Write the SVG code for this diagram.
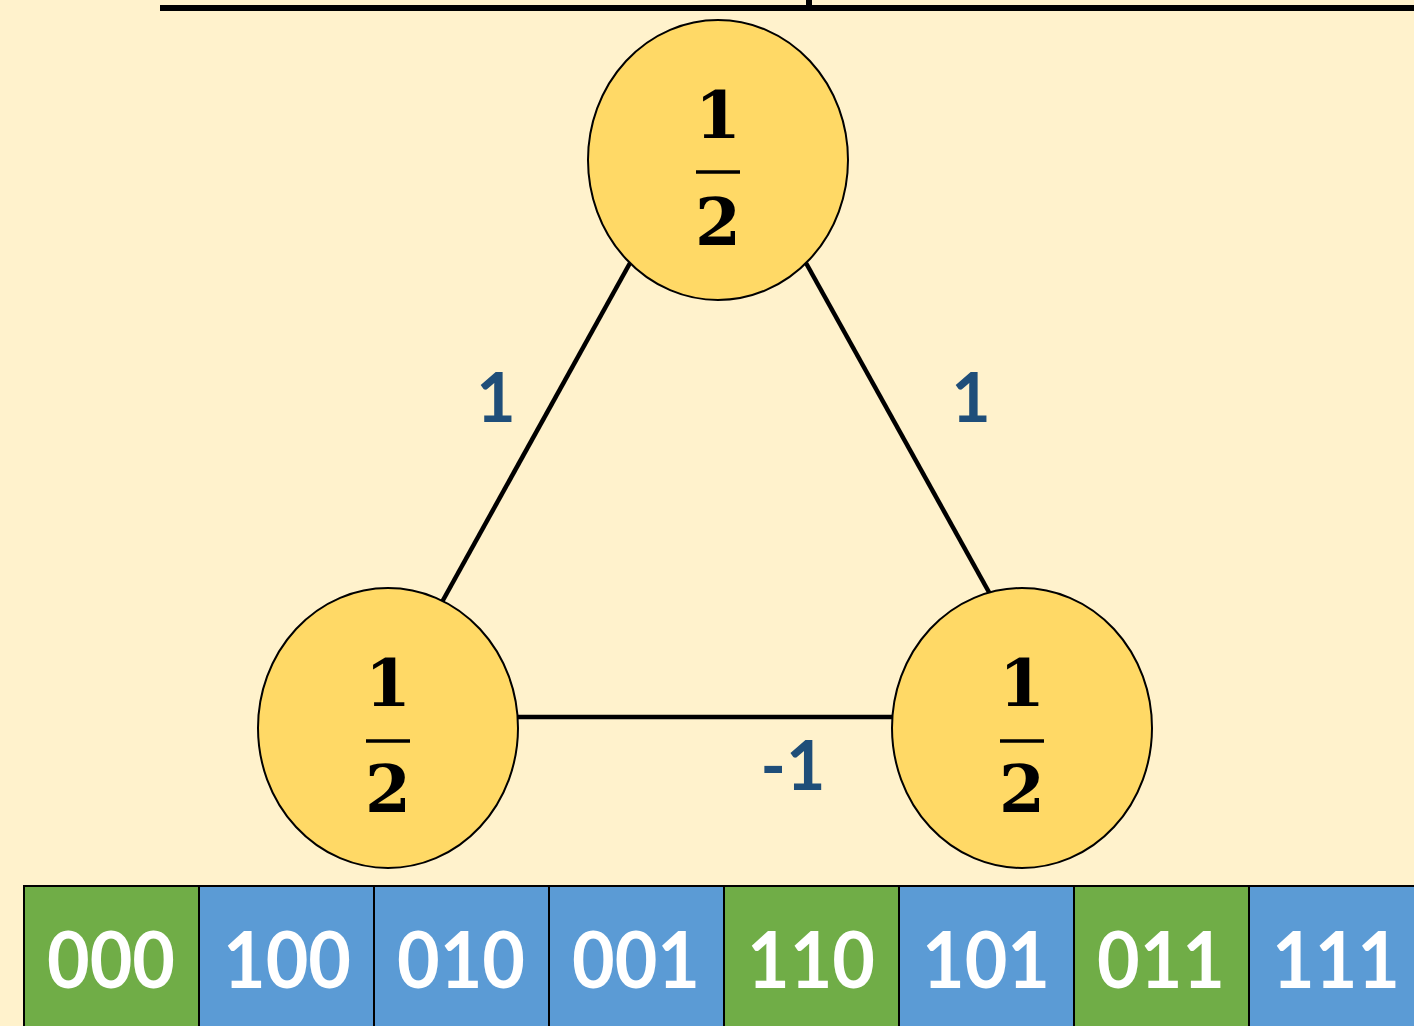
<svg xmlns="http://www.w3.org/2000/svg" width="1414" height="1026" viewBox="0 0 1414 1026">
<style>
.node{fill:#FFD966;stroke:#000;stroke-width:2}
.edge{stroke:#000;stroke-width:4.5;fill:none}
.frac{font-family:"DejaVu Serif","Liberation Serif",serif;font-weight:bold;font-size:66px;fill:#000;text-anchor:middle}
.bar{stroke:#000;stroke-width:3.5}
.lbl{font-family:Lato,"Open Sans",sans-serif;font-weight:bold;font-size:68px;fill:#1F4E79;text-anchor:middle}
.cell{stroke:#000;stroke-width:2}
.g{fill:#70AD47}
.b{fill:#5B9BD5}
.ct{font-family:Lato,"Open Sans",sans-serif;font-weight:bold;font-size:78px;fill:#fff;text-anchor:middle}
</style>
<rect width="1414" height="1026" fill="#FFF2CC"/>
<g id="topbar">
<line x1="160" y1="8" x2="1414" y2="8" stroke="#000" stroke-width="6"/>
<line x1="809" y1="0" x2="809" y2="10" stroke="#000" stroke-width="6"/>
</g>
<g id="connectors">
<line class="edge" x1="630" y1="263" x2="442" y2="602"/>
<line class="edge" x1="806" y1="263" x2="990" y2="594"/>
<line class="edge" x1="518" y1="717" x2="893" y2="717"/>
<text class="lbl" x="496" y="422">1</text>
<text class="lbl" x="971" y="422">1</text>
<text class="lbl" x="793" y="790">-1</text>
</g>
<g id="node-top">
<ellipse class="node" cx="718" cy="160" rx="130" ry="140"/>
<text class="frac" x="718" y="138">1</text>
<line class="bar" x1="696" y1="172" x2="740" y2="172"/>
<text class="frac" x="718" y="245">2</text>
</g>
<g id="node-left">
<ellipse class="node" cx="388" cy="728" rx="130" ry="140"/>
<text class="frac" x="388" y="706">1</text>
<line class="bar" x1="366" y1="741" x2="410" y2="741"/>
<text class="frac" x="388" y="812">2</text>
</g>
<g id="node-right">
<ellipse class="node" cx="1022" cy="728" rx="130" ry="140"/>
<text class="frac" x="1022" y="706">1</text>
<line class="bar" x1="1000" y1="741" x2="1044" y2="741"/>
<text class="frac" x="1022" y="812">2</text>
</g>
<g id="cells">
<rect class="cell g" x="24" y="886" width="175" height="150"/>
<rect class="cell b" x="199" y="886" width="175" height="150"/>
<rect class="cell b" x="374" y="886" width="175" height="150"/>
<rect class="cell b" x="549" y="886" width="175" height="150"/>
<rect class="cell g" x="724" y="886" width="175" height="150"/>
<rect class="cell b" x="899" y="886" width="175" height="150"/>
<rect class="cell g" x="1074" y="886" width="175" height="150"/>
<rect class="cell b" x="1249" y="886" width="175" height="150"/>
<text class="ct" x="111" y="988" textLength="128" lengthAdjust="spacingAndGlyphs">000</text>
<text class="ct" x="287" y="988" textLength="128" lengthAdjust="spacingAndGlyphs">100</text>
<text class="ct" x="461" y="988" textLength="128" lengthAdjust="spacingAndGlyphs">010</text>
<text class="ct" x="636" y="988" textLength="128" lengthAdjust="spacingAndGlyphs">001</text>
<text class="ct" x="811" y="988" textLength="128" lengthAdjust="spacingAndGlyphs">110</text>
<text class="ct" x="986" y="988" textLength="128" lengthAdjust="spacingAndGlyphs">101</text>
<text class="ct" x="1161" y="988" textLength="128" lengthAdjust="spacingAndGlyphs">011</text>
<text class="ct" x="1336" y="988" textLength="128" lengthAdjust="spacingAndGlyphs">111</text>
</g>
</svg>
